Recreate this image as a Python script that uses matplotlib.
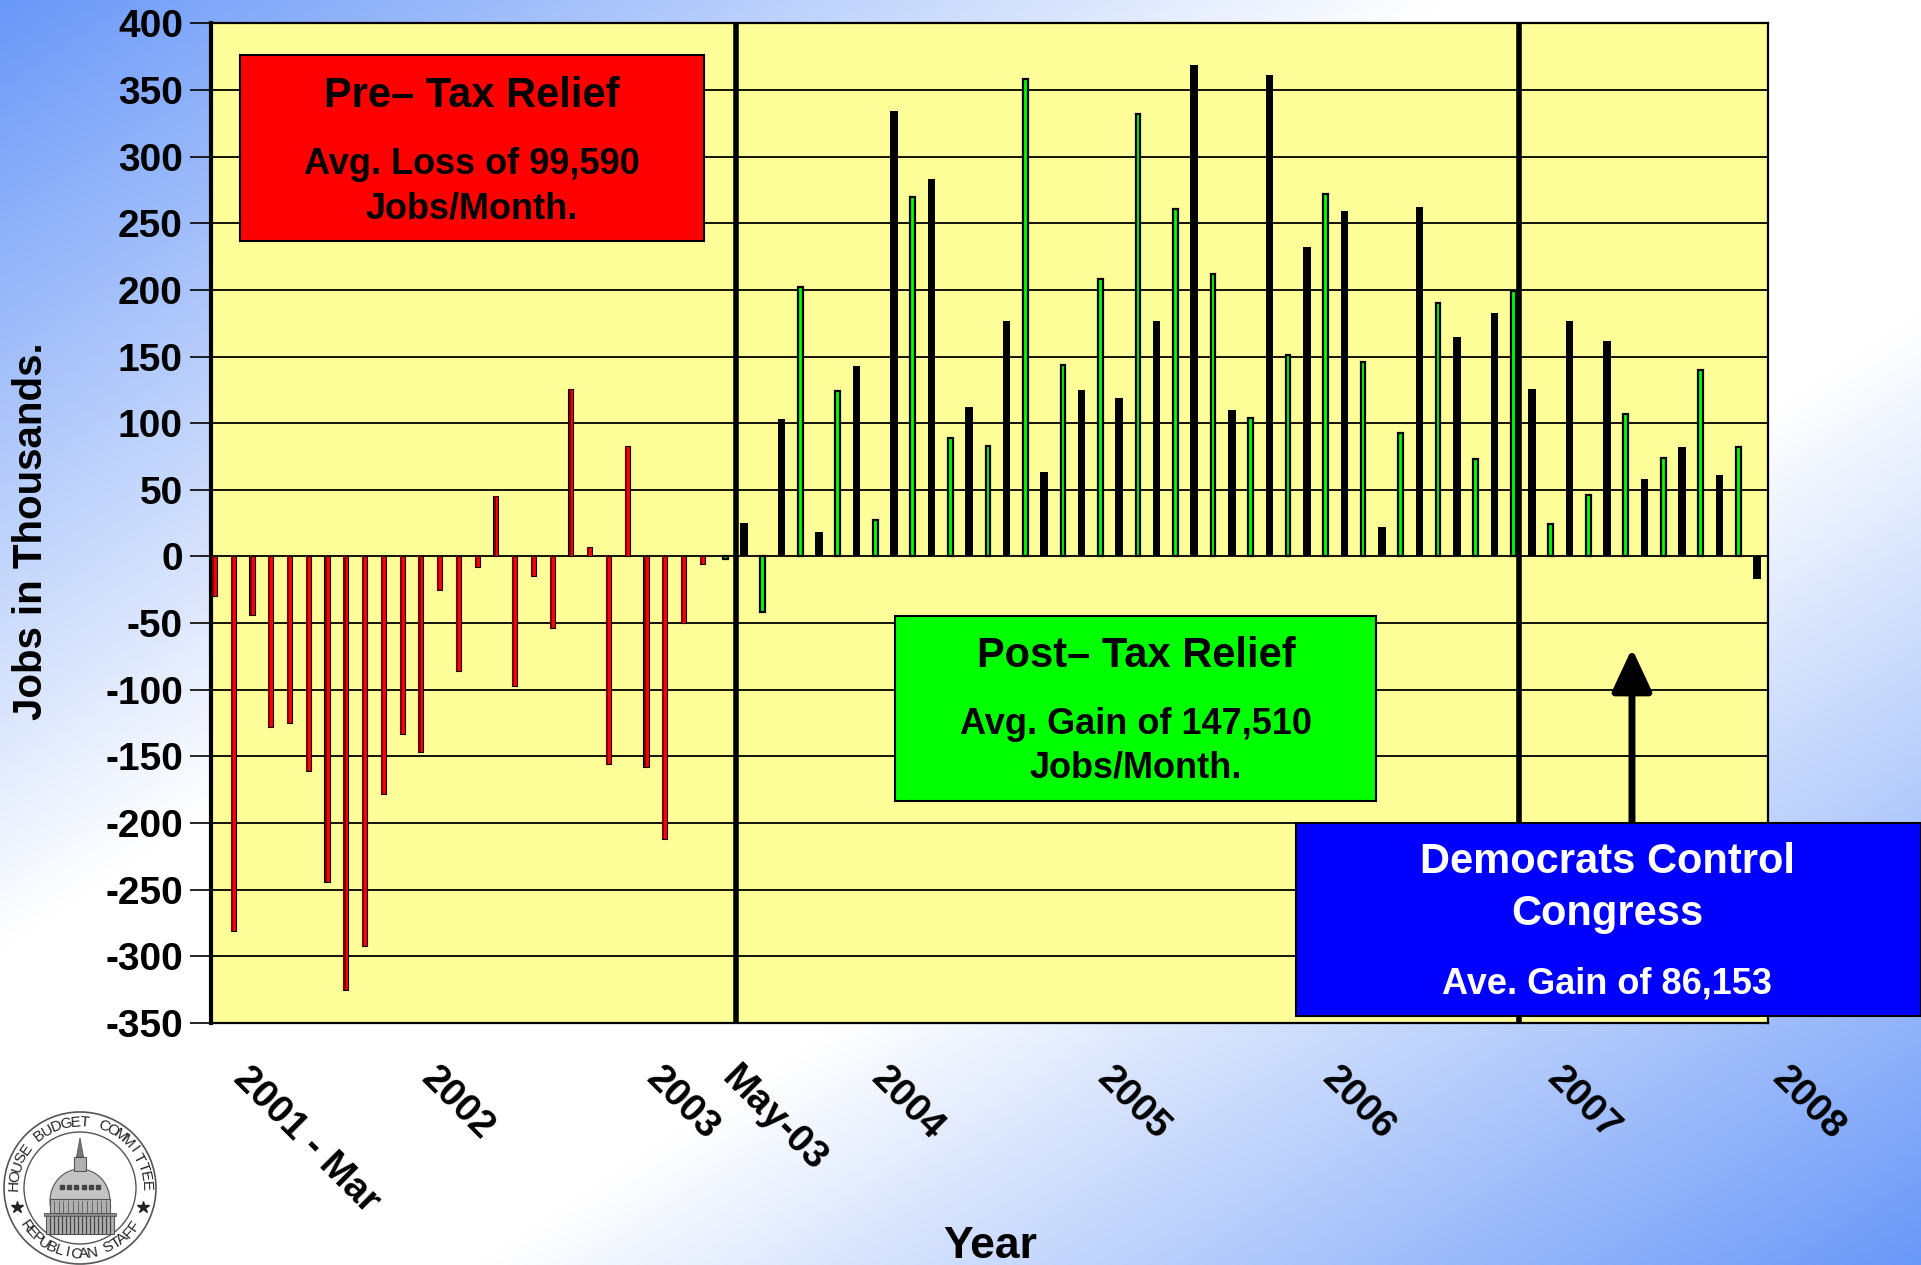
import numpy as np
import matplotlib.pyplot as plt
from matplotlib.patches import Rectangle, Circle, Ellipse, Polygon

plt.rcParams['font.family'] = ['Liberation Sans', 'DejaVu Sans']
plt.rcParams['font.weight'] = 'bold'
plt.rcParams['axes.unicode_minus'] = False

W, H = 1921, 1265

# Monthly payroll change, thousands of jobs (Mar 2001 - May 2003)
pre_relief = [-30, -281, -44, -128, -125, -161, -244, -325, -292, -178,
              -133, -147, -25, -86, -8, 45, -97, -15, -54, 126,
              7, -156, 83, -158, -212, -50, -6]

# Jun 2003 - Jan 2008
post_relief = [-2, 25, -42, 103, 202, 18, 124, 143, 27, 334,
               270, 283, 89, 112, 83, 177, 358, 63, 144, 125,
               208, 119, 332, 177, 261, 369, 212, 110, 104, 361,
               151, 232, 272, 259, 146, 22, 93, 262, 190, 165,
               73, 183, 199, 126, 24, 177, 46, 162, 107, 58,
               74, 82, 140, 61, 82, -17]

tick_labels = ['2001 - Mar', '2002', '2003', 'May-03', '2004',
               '2005', '2006', '2007', '2008']
tick_months = [0, 10, 22, 26, 34, 46, 58, 70, 82]

pre_title = 'Pre\u2013 Tax Relief'
pre_note = ['Avg. Loss of 99,590', 'Jobs/Month.']
post_title = 'Post\u2013 Tax Relief'
post_note = ['Avg. Gain of 147,510', 'Jobs/Month.']
dem_title = ['Democrats Control', 'Congress']
dem_note = 'Ave. Gain of 86,153'

relief_month = 28.0      # boundary before Jul 2003
congress_month = 69.75   # boundary before Jan 2007


def px_rect(x0, y0, x1, y1):
    """Pixel box (top-left origin) -> figure fraction rect."""
    return (x0 / W, 1 - y1 / H, (x1 - x0) / W, (y1 - y0) / H)


def fig_label(x, y, s, size, color='black'):
    fig.text(x / W, 1 - y / H, s, ha='center', va='center', fontsize=size,
             fontweight='bold', color=color, zorder=11)


fig = plt.figure(figsize=(W / 100, H / 100), dpi=100)

# --- diagonal blue/white backdrop ---
bg = fig.add_axes([0, 0, 1, 1])
bg.set_axis_off()
gx, gy = np.meshgrid(np.linspace(0, 1, 480), np.linspace(0, 1, 316))
shade = np.clip((np.abs(gx + gy - 1) - 0.25) / 0.75, 0, 1)
blue = np.array([106, 152, 248]) / 255
bg.imshow(1 - shade[..., None] * (1 - blue), aspect='auto',
          extent=(0, 1, 0, 1), interpolation='bilinear')

# --- main bar chart ---
ax = fig.add_axes(px_rect(210.7, 23.3, 1768, 1023))
ax.set_facecolor('#ffff99')

n_pre = len(pre_relief)
months = np.arange(n_pre + len(post_relief))
pre_x = months[:n_pre] + 0.2
post_x = months[n_pre:] + 0.42
post_vals = np.array(post_relief)

ax.bar(pre_x, pre_relief, width=0.27, color='#ff0000',
       edgecolor='black', linewidth=0.8, zorder=3)
ax.bar(pre_x - 0.07, pre_relief, width=0.11, color='#7a0000',
       linewidth=0, zorder=4)
ax.bar(post_x[1::2], post_vals[1::2], width=0.4, color='black', zorder=3)
ax.bar(post_x[0::2], post_vals[0::2], width=0.25, color='#00ff00',
       edgecolor='black', linewidth=1.6, zorder=3)

ax.axvline(relief_month, color='black', linewidth=4, zorder=5)
ax.axvline(congress_month, color='black', linewidth=4, zorder=5)

ax.set_yticks(np.arange(-350, 401, 50))
ax.set_xticks([])
ax.set_xlim(0, len(months))
ax.set_ylim(-350, 400)
ax.yaxis.grid(True, color='black', linewidth=1.3)
ax.set_axisbelow(True)

ax.spines['left'].set_linewidth(3)
for side in ('top', 'right', 'bottom'):
    ax.spines[side].set_linewidth(1.6)

ax.tick_params(axis='y', direction='out', length=15, width=1.2, pad=5,
               labelsize=28)

# slanted year labels under the axis (last one sits past the right edge)
for month, label in zip(tick_months, tick_labels):
    ax.text(month + 2.2, -0.037, label, transform=ax.get_xaxis_transform(),
            rotation=-45, ha='left', va='top', rotation_mode='anchor',
            fontsize=28, fontweight='bold', clip_on=False)

# arrow pointing up from the Congress box
ax.annotate('', xy=(75.75, -69), xytext=(75.75, -200),
            arrowprops=dict(arrowstyle='-|>,head_length=0.9,head_width=0.42',
                            mutation_scale=29, lw=5, color='black',
                            shrinkA=0, shrinkB=0), zorder=6)

fig.text(31 / W, 1 - 531 / H, 'Jobs in Thousands.', rotation=90,
         ha='center', va='center', fontsize=29, fontweight='bold')
fig.text(990 / W, 1 - 1258 / H, 'Year', ha='center', va='baseline',
         fontsize=32, fontweight='bold')

# --- callout boxes ---
for box, color in [((240, 55, 704, 241), '#ff0000'),
                   ((895, 616, 1376, 801), '#00ff00'),
                   ((1296, 823, 1921, 1016), '#0000ff')]:
    fig.add_artist(Rectangle(px_rect(*box)[:2], *px_rect(*box)[2:],
                             transform=fig.transFigure, facecolor=color,
                             edgecolor='black', linewidth=1.5, zorder=10))

fig_label(472, 96, pre_title, 30)
fig_label(472, 165, pre_note[0], 26)
fig_label(472, 209, pre_note[1], 26)

fig_label(1136, 656, post_title, 30)
fig_label(1136, 724, post_note[0], 26)
fig_label(1136, 768, post_note[1], 26)

fig_label(1607, 862, dem_title[0], 30, 'white')
fig_label(1607, 914, dem_title[1], 30, 'white')
fig_label(1607, 984, dem_note, 26, 'white')

# --- committee seal, bottom left ---
lax = fig.add_axes(px_rect(0, 1108, 165, 1265))
lax.set_xlim(0, 165)
lax.set_ylim(0, 157)
lax.set_axis_off()
cx, cy = 80, 77
lax.add_patch(Circle((cx, cy), 76, facecolor='white', edgecolor='#555555', lw=1.2))
lax.add_patch(Circle((cx, cy), 56, facecolor='white', edgecolor='#555555', lw=1.0))


def arc_text(s, r, a0, a1):
    for ch, a in zip(s, np.linspace(a0, a1, len(s))):
        t = np.deg2rad(a)
        rot = a - 90 if a0 > a1 else a + 90
        lax.text(cx + r * np.cos(t), cy + r * np.sin(t), ch, rotation=rot,
                 ha='center', va='center', rotation_mode='anchor',
                 fontsize=11, fontweight='normal', color='#222222')


arc_text('HOUSE BUDGET COMMITTEE', 66, 178, 2)
arc_text('REPUBLICAN STAFF', 66, 215, 325)
for a in (197, -17):
    t = np.deg2rad(a)
    lax.plot(cx + 66 * np.cos(t), cy + 66 * np.sin(t), marker='*',
             markersize=9, color='#222222')

# capitol dome
dome_grey, dome_edge = '#b0b0b0', '#555555'
lax.add_patch(Ellipse((cx, 64), 60, 64, facecolor='#c4c4c4', edgecolor=dome_edge, lw=0.8))
lax.add_patch(Rectangle((46, 31), 68, 19, facecolor=dome_grey, edgecolor=dome_edge, lw=0.8, zorder=3))
for col in np.linspace(50, 110, 16):
    lax.plot([col, col], [32, 48], color='#444444', lw=0.9, zorder=4)
lax.add_patch(Rectangle((44, 49), 72, 3, facecolor='#888888', edgecolor=dome_edge, lw=0.6, zorder=4))
lax.add_patch(Rectangle((50, 52), 60, 14, facecolor=dome_grey, edgecolor=dome_edge, lw=0.8, zorder=3))
for col in np.linspace(54, 106, 12):
    lax.plot([col, col], [53, 64], color='#666666', lw=0.7, zorder=4)
for wx in np.linspace(62, 98, 6):
    lax.plot(wx, 78, marker='s', markersize=2.2, color='#444444', zorder=4)
lax.add_patch(Rectangle((74, 94), 12, 14, facecolor=dome_grey, edgecolor=dome_edge, lw=0.8, zorder=4))
lax.add_patch(Polygon([(76.5, 108), (83.5, 108), (80, 127)], closed=True,
                      facecolor='#777777', edgecolor=dome_edge, lw=0.6, zorder=4))

fig.savefig('out.png', dpi=100)
